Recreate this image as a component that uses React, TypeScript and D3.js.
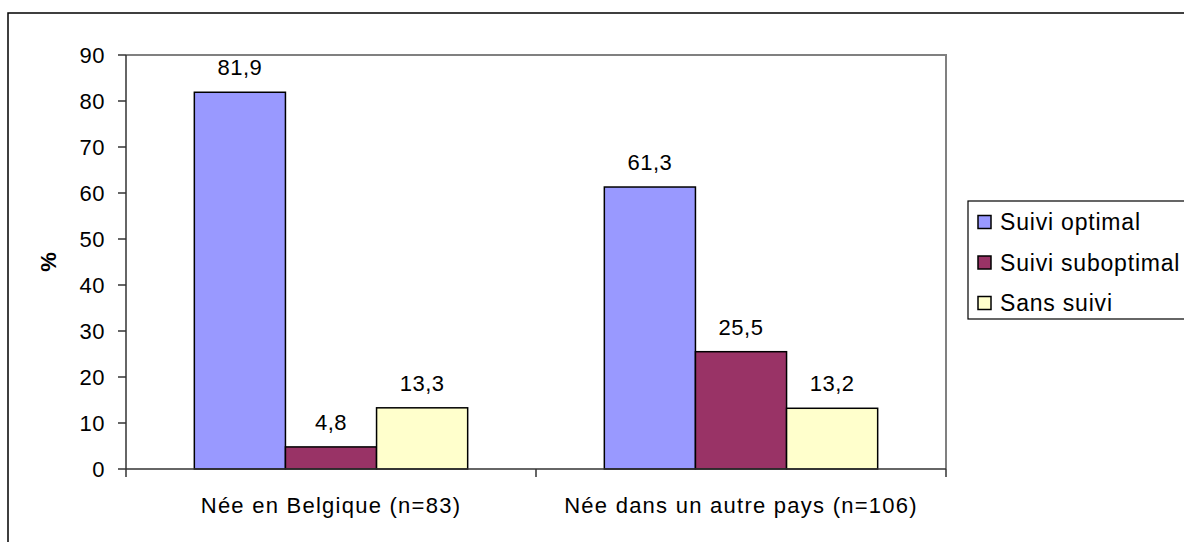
import React from "react";
import * as d3 from "d3";

const categories = ["Née en Belgique (n=83)", "Née dans un autre pays (n=106)"];
const seriesNames = ["Suivi optimal", "Suivi suboptimal", "Sans suivi"];
const seriesColors = ["#9999FF", "#993366", "#FFFFCC"];
const optimal = [81.9, 61.3];
const suboptimal = [4.8, 25.5];
const sansSuivi = [13.3, 13.2];
const yTicks = [0, 10, 20, 30, 40, 50, 60, 70, 80, 90];

const series = [optimal, suboptimal, sansSuivi];

export default function App() {
  const W = 1184, H = 542;
  const left = 126, right = 946, top = 55, bottom = 469;
  const x0 = d3.scaleBand<string>().domain(categories).range([left, right]).paddingInner(0).paddingOuter(0);
  const x1 = d3.scaleBand<string>().domain(seriesNames).range([0, x0.bandwidth()]).paddingOuter(0.75).paddingInner(0);
  const y = d3.scaleLinear().domain([0, 90]).range([bottom, top]);
  const font = "'Liberation Sans', Arial, sans-serif";
  const fs = 22;

  return (
    <svg width={W} height={H} style={{ position: "absolute", left: 0, top: 0, background: "#fff" }} fontFamily={font}>
      <rect x={0} y={0} width={W} height={H} fill="#fff" />
      <rect x={8} y={13} width={1300} height={700} fill="none" stroke="#000" strokeWidth={1.5} />
      {/* plot area border */}
      <path d={`M${left},${top}H${right}V${bottom}`} fill="none" stroke="#808080" strokeWidth={2} />
      {/* bars */}
      {categories.map((c, ci) => (
        <g key={c}>
          {seriesNames.map((s, si) => {
            const v = series[si][ci];
            const bx = (x0(c) ?? 0) + (x1(s) ?? 0);
            const bw = x1.bandwidth();
            return (
              <g key={s}>
                <rect x={bx} y={y(v)} width={bw} height={bottom - y(v)} fill={seriesColors[si]} stroke="#000" strokeWidth={1.5} />
                <text x={bx + bw / 2} y={y(v) - 17} textAnchor="middle" fontSize={fs} letterSpacing={0.5}>
                  {d3.format(".1f")(v).replace(".", ",")}
                </text>
              </g>
            );
          })}
        </g>
      ))}
      {/* y axis */}
      <line x1={left} x2={left} y1={top} y2={bottom} stroke="#333" strokeWidth={1.5} />
      {yTicks.map((t) => (
        <g key={t}>
          <line x1={left - 8} x2={left} y1={y(t)} y2={y(t)} stroke="#333" strokeWidth={1.5} />
          <text x={left - 21} y={y(t)} dy="0.36em" textAnchor="end" fontSize={fs} letterSpacing={0.5}>{t}</text>
        </g>
      ))}
      <text transform={`translate(56,${(top + bottom) / 2}) rotate(-90)`} textAnchor="middle" fontSize={fs} fontWeight="bold">%</text>
      {/* x axis */}
      <line x1={left} x2={right} y1={bottom} y2={bottom} stroke="#333" strokeWidth={1.5} />
      {[left, ...categories.map((c) => (x0(c) ?? 0) + x0.bandwidth())].map((tx, i) => (
        <line key={i} x1={tx} x2={tx} y1={bottom} y2={bottom + 8} stroke="#333" strokeWidth={1.5} />
      ))}
      {categories.map((c) => (
        <text key={c} x={(x0(c) ?? 0) + x0.bandwidth() / 2} y={513} textAnchor="middle" fontSize={fs} letterSpacing={1.25}>{c}</text>
      ))}
      {/* legend */}
      <rect x={968} y={201} width={300} height={118} fill="#fff" stroke="#000" strokeWidth={1.2} />
      {seriesNames.map((s, i) => {
        const cy = 222 + i * 40.5;
        return (
          <g key={s}>
            <rect x={978} y={cy - 6.5} width={13} height={13} fill={seriesColors[i]} stroke="#000" strokeWidth={1.5} />
            <text x={1000} y={cy} dy="0.36em" fontSize={23} letterSpacing={0.8}>{s}</text>
          </g>
        );
      })}
    </svg>
  );
}
